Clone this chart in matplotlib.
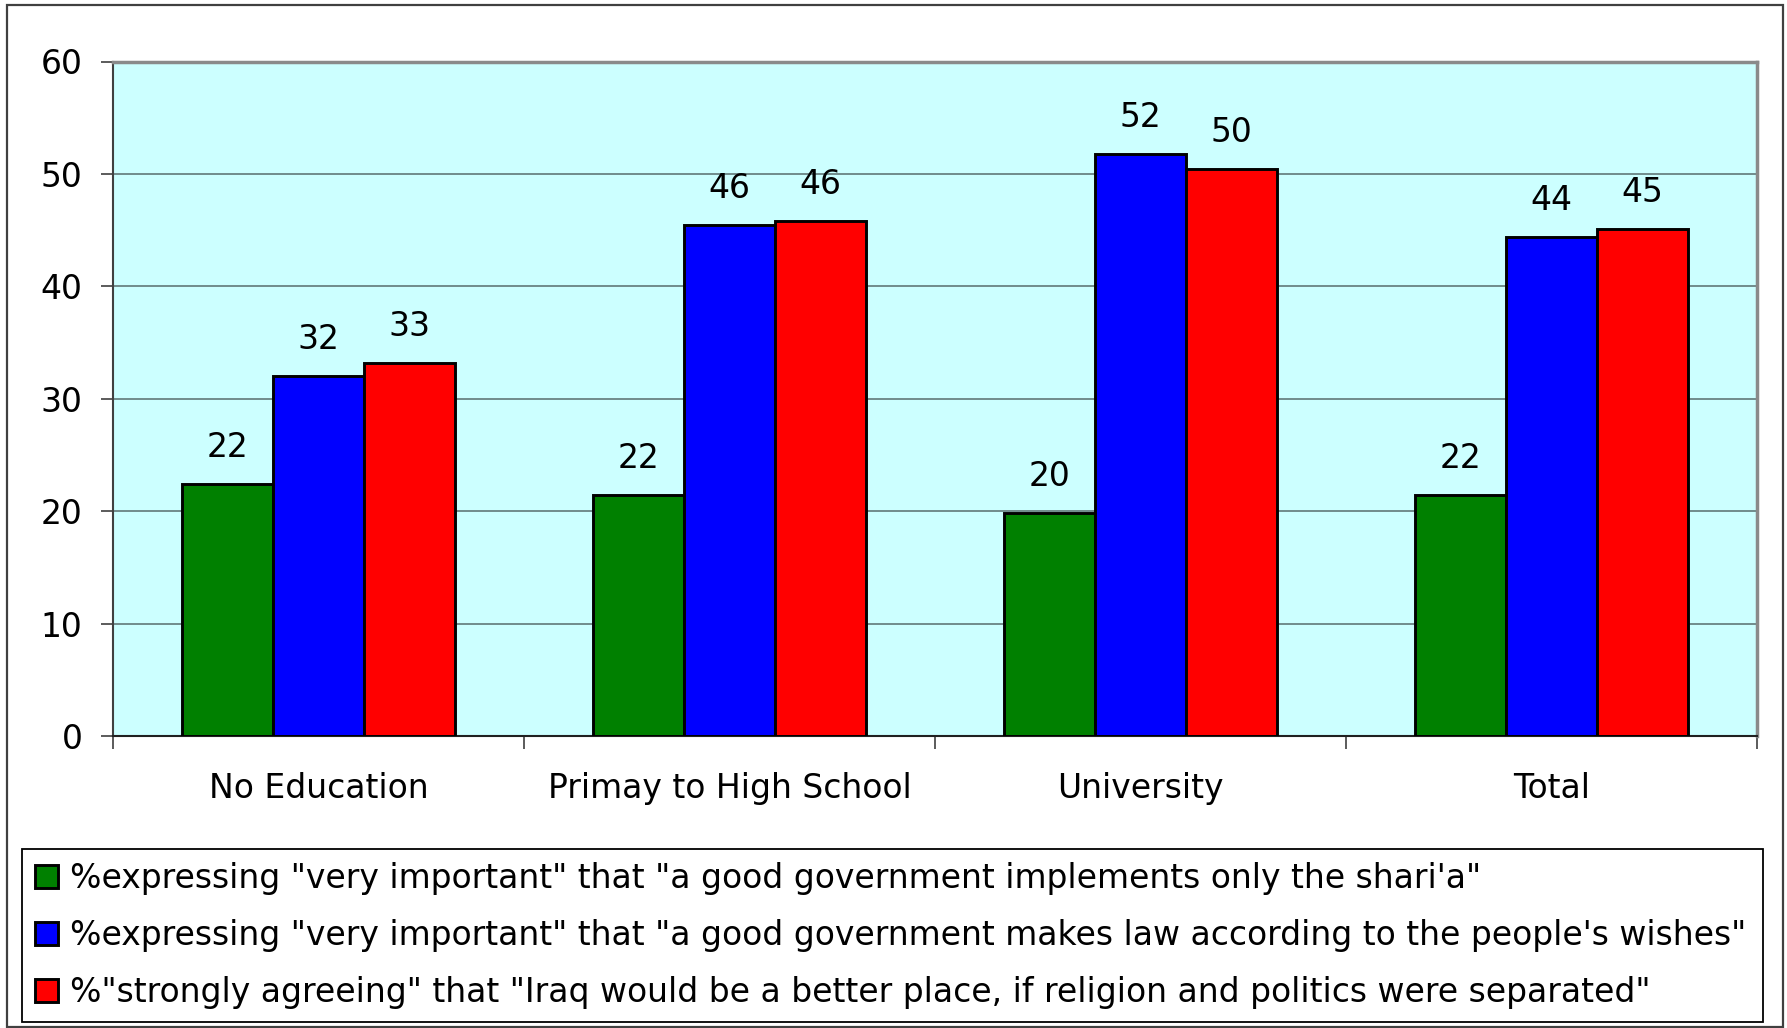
import matplotlib
matplotlib.use("Agg")
import matplotlib.pyplot as plt
from matplotlib.patches import Rectangle
import numpy as np

categories = ["No Education", "Primay to High School", "University", "Total"]
series_names = [
    '%expressing "very important" that "a good government implements only the shari\'a"',
    '%expressing "very important" that "a good government makes law according to the people\'s wishes"',
    '%"strongly agreeing" that "Iraq would be a better place, if religion and politics were separated"',
]
shariah = [22.4, 21.4, 19.8, 21.4]
peoples_wishes = [32.0, 45.5, 51.8, 44.4]
separation = [33.2, 45.8, 50.4, 45.1]
shariah_labels = ["22", "22", "20", "22"]
wishes_labels = ["32", "46", "52", "44"]
separation_labels = ["33", "46", "50", "45"]
y_ticks = [0, 10, 20, 30, 40, 50, 60]

colors = ["#008000", "#0000FF", "#FF0000"]

plt.rcParams['font.family'] = ['DejaVu Sans']
W, H = 1787, 1028
fig = plt.figure(figsize=(W / 100, H / 100), dpi=100)
fs = 23.8

# outer border
fig.patches.append(Rectangle((7 / W, 1 - 1027 / H), (1783 - 7) / W, (1027 - 5) / H,
                             transform=fig.transFigure, fill=False,
                             edgecolor="#404040", linewidth=1.6))

ax = fig.add_axes([113 / W, 1 - 736 / H, (1757 - 113) / W, (736 - 61.5) / H])
ax.set_facecolor("#CCFFFF")

x = np.arange(len(categories))
w = 0.222
data = [shariah, peoples_wishes, separation]
labels = [shariah_labels, wishes_labels, separation_labels]
for k, (vals, col, name, labs) in enumerate(zip(data, colors, series_names, labels)):
    bars = ax.bar(x + (k - 1) * w, vals, width=w, color=col, edgecolor="black",
                  linewidth=2.1, label=name, zorder=3)
    for b, lab in zip(bars, labs):
        ax.annotate(lab, (b.get_x() + b.get_width() / 2, b.get_height()),
                    xytext=(0, 27), textcoords="offset pixels",
                    ha="center", va="baseline", fontsize=fs, zorder=4)

ax.set_xlim(-0.5, 3.5)
ax.set_ylim(0, 60)
ax.set_yticks(y_ticks)
ax.set_yticklabels([str(t) for t in y_ticks], fontsize=fs)
ax.tick_params(axis="y", length=9, width=1.2, pad=13, color="#404040")
ax.yaxis.grid(True, color="#607878", linewidth=1.2, zorder=0)
ax.set_axisbelow(True)

ax.set_xticks(np.arange(-0.5, 4.0, 1.0))
ax.set_xticklabels([])
ax.tick_params(axis="x", which="major", length=9, width=1.2, color="#404040")
ax.set_xticks(x, minor=True)
ax.set_xticklabels(categories, minor=True, fontsize=fs)
ax.tick_params(axis="x", which="minor", length=0, pad=26)

ax.spines["left"].set_color("#404040")
ax.spines["left"].set_linewidth(1.5)
ax.spines["bottom"].set_color("#202020")
ax.spines["bottom"].set_linewidth(1.5)
ax.spines["top"].set_color("#8a8a8a")
ax.spines["top"].set_linewidth(2.5)
ax.spines["right"].set_color("#8a8a8a")
ax.spines["right"].set_linewidth(2.5)

leg = ax.legend(loc="upper left",
                bbox_to_anchor=(22 / W, 1 - 1023 / H, (1763 - 22) / W, (1023 - 849) / H),
                bbox_transform=fig.transFigure, mode="expand",
                fontsize=fs, frameon=True, fancybox=False, shadow=False,
                edgecolor="black", framealpha=1, borderpad=0.4,
                labelspacing=0.72, handlelength=0.7, handleheight=0.7,
                handletextpad=0.35, borderaxespad=0)
leg.get_frame().set_linewidth(1.3)

fig.savefig("out.png", dpi=100)
